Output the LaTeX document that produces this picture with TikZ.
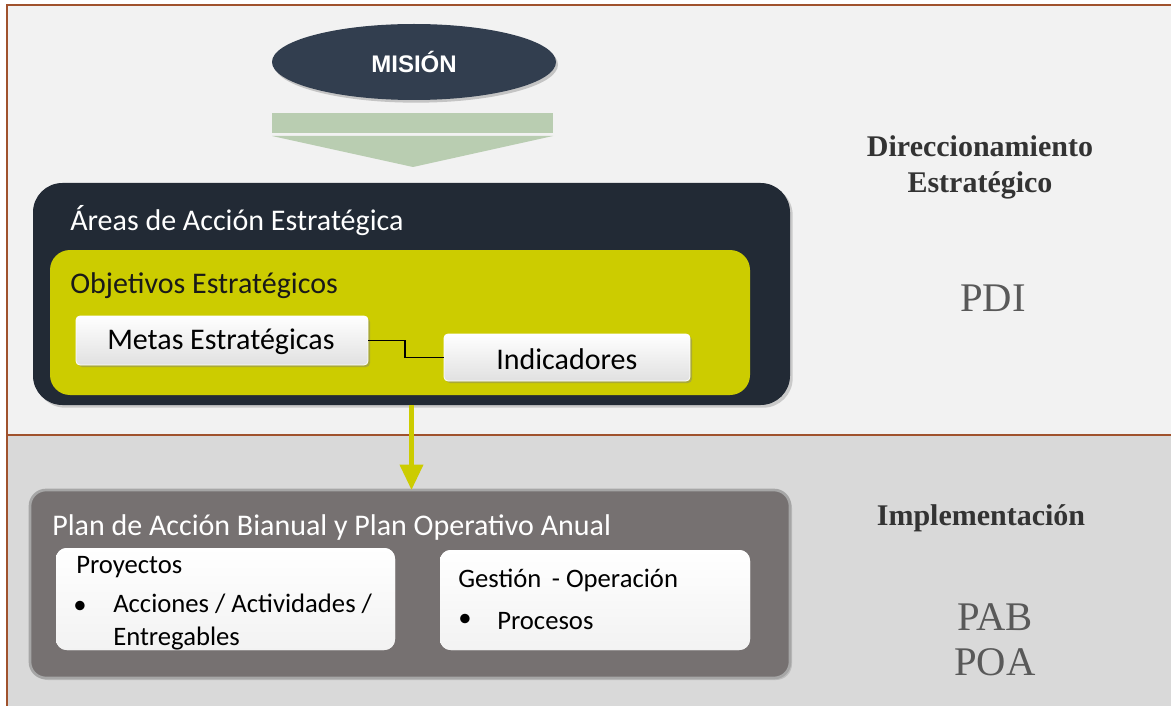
\documentclass[tikz,border=0pt]{standalone}
\usepackage{fontspec}
\setmainfont{Carlito}
\newfontfamily\calibrifont{Carlito}
\newfontfamily\serfont{Liberation Serif}
\newfontfamily\arialfont{Liberation Sans}
\usetikzlibrary{shapes.geometric,arrows.meta,shadows,calc}
\definecolor{framebrown}{HTML}{A0522D}
\definecolor{topbg}{HTML}{F2F2F2}
\definecolor{botbg}{HTML}{D9D9D9}
\definecolor{navy}{HTML}{323E4F}
\definecolor{darkbox}{HTML}{222A35}
\definecolor{olive}{HTML}{CCCC00}
\definecolor{sage}{HTML}{B9CDB1}
\definecolor{plangray}{HTML}{767171}
\definecolor{planedge}{HTML}{A6A6A6}
\definecolor{labgray}{HTML}{595959}
\definecolor{labdark}{HTML}{333333}
\tikzset{
  pxbox/.style={rectangle, anchor=north west, inner sep=0pt, outer sep=0pt},
  areabox/.style={pxbox, fill=darkbox, rounded corners=22pt,
     drop shadow={opacity=0.35, shadow xshift=2pt, shadow yshift=-2pt}},
  objbox/.style={pxbox, fill=olive, rounded corners=15pt},
  whitebox/.style={pxbox, rounded corners=3pt, top color=white, bottom color=black!12,
     draw=white, line width=0.6pt,
     drop shadow={opacity=0.45, shadow xshift=1.5pt, shadow yshift=-1.5pt}},
  planbox/.style={pxbox, fill=plangray, draw=planedge, line width=2pt, rounded corners=12pt,
     drop shadow={opacity=0.3, shadow xshift=1.5pt, shadow yshift=-1.5pt}},
  innerbox/.style={pxbox, fill=white, rounded corners=8pt, top color=white, bottom color=black!5},
  boxtext/.style={anchor=west, inner sep=0pt, font=\calibrifont\fontsize{22.5}{27}\selectfont},
  smalltext/.style={anchor=west, inner sep=0pt, font=\calibrifont\fontsize{20}{24}\selectfont},
  bullettext/.style={anchor=center, inner sep=0pt, font=\calibrifont\fontsize{20}{24}\selectfont},
  sidelabel/.style={align=center, inner sep=0pt, text=labdark, font=\serfont\bfseries\fontsize{22.5}{27}\selectfont},
  sideabbr/.style={align=center, inner sep=0pt, text=labgray, font=\serfont\fontsize{30.5}{34}\selectfont},
}
\begin{document}
\begin{tikzpicture}[x=0.75pt, y=-0.75pt]
\useasboundingbox (0,0) rectangle (1171,706);
% background bands
\fill[white] (0,0) rectangle (1171,706);
\fill[topbg] (7,5) rectangle (1171,435);
\fill[botbg] (7,435) rectangle (1171,706);
\draw[framebrown, line width=1.5pt] (7,706) -- (7,5) -- (1171,5);
\draw[framebrown, line width=1.5pt] (7,435) -- (1171,435);

% Mision
\node[ellipse, fill=navy, minimum width=284*0.75pt, minimum height=76*0.75pt, inner sep=0pt,
      drop shadow={opacity=0.4, shadow xshift=1.5pt, shadow yshift=-2pt},
      text=white, font=\arialfont\bfseries\fontsize{18}{20}\selectfont] (mision) at (414,62) {MISIÓN};

% green block arrow
\node[pxbox, fill=sage, minimum width=281*0.75pt, minimum height=20*0.75pt] (bar) at (272,113) {};
\fill[sage] (272,136) -- (553,136) -- (413,167) -- cycle;

% Areas de accion
\node[areabox, minimum width=757*0.75pt, minimum height=222*0.75pt] (areas) at (33,183) {};
\node[boxtext, text=white] (areastxt) at (70,221) {Áreas de Acción Estratégica};

\node[objbox, minimum width=700*0.75pt, minimum height=145*0.75pt] (obj) at (50,250) {};
\node[boxtext, text=black!90] (objtxt) at (70,286) {Objetivos Estratégicos};

\node[whitebox, minimum width=292*0.75pt, minimum height=49*0.75pt] (metas) at (76,316) {};
\node[boxtext] (metastxt) at (107,342) {Metas Estratégicas};

\node[whitebox, minimum width=246*0.75pt, minimum height=47*0.75pt] (indic) at (444,334) {};
\node[boxtext] (indictxt) at (496,359) {Indicadores};

\draw[black, line width=0.8pt] (metas.east) -- ($(metas.east)+(37,0)$) |- (indic.west);

% Plan box
\node[planbox, minimum width=760*0.75pt, minimum height=188*0.75pt] (plan) at (30,490) {};
\node[boxtext, text=white] (plantxt) at (52,527) {Plan de Acción Bianual y Plan Operativo Anual};

\draw[olive, line width=3.5pt, -{Triangle[length=19pt, width=17pt]}]
   (areas.south) -- (areas.south |- plan.north);

\node[innerbox, minimum width=339*0.75pt, minimum height=102*0.75pt] (proy) at (56,548) {};
\node[smalltext] (proytxt) at (76,567) {Proyectos};
\node[bullettext] (proyb) at (80,607) {•};
\node[smalltext, align=left] (proyitem) at (113,622) {Acciones / Actividades /\\[1pt]Entregables};

\node[innerbox, minimum width=310*0.75pt, minimum height=100*0.75pt] (gest) at (440,550) {};
\node[smalltext] (gesttxt) at (458,580) {Gestión\, - Operación};
\node[bullettext] (gestb) at (465,620) {•};
\node[smalltext] (gestitem) at (497,621) {Procesos};

% side labels
\node[sidelabel] (dir) at (980,167) {Direccionamiento\\Estratégico};
\node[sideabbr] (pdi) at (993,298) {PDI};
\node[sidelabel] (impl) at (981,518) {Implementación};
\node[sideabbr] (pab) at (995,640) {PAB\\POA};
\end{tikzpicture}
\end{document}
